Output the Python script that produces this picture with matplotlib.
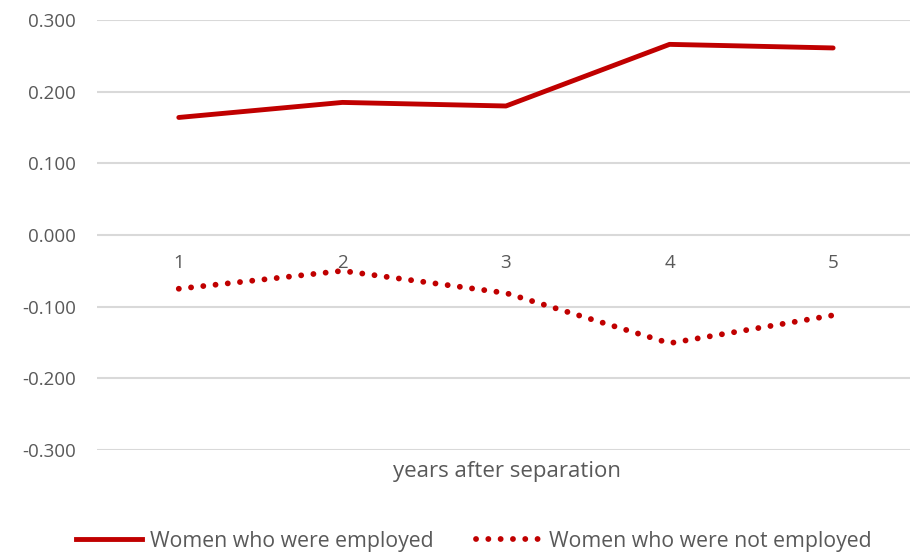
import matplotlib.pyplot as plt
from matplotlib.lines import Line2D

plt.rcParams['font.family'] = ['Open Sans', 'DejaVu Sans']

# data
years = [1, 2, 3, 4, 5]
employed = [0.164, 0.185, 0.180, 0.266, 0.261]
not_employed = [-0.075, -0.050, -0.081, -0.151, -0.112]
yticks = [-0.3, -0.2, -0.1, 0.0, 0.1, 0.2, 0.3]

red = '#c00000'
grey = '#595959'
dots = (0, (0.01, 2.1))

fig = plt.figure(figsize=(9.1, 5.53), dpi=100)
ax = fig.add_axes([97 / 910, 1 - 450 / 553, 1 - 97 / 910, 430 / 553])

ax.plot(years, employed, color=red, linewidth=3.5, solid_capstyle='round',
        solid_joinstyle='round', label='Women who were employed')
ax.plot(years, not_employed, color=red, linewidth=4.2, linestyle=dots,
        dash_capstyle='round', label='Women who were not employed')

ax.set_ylim(-0.3, 0.3)
ax.set_xlim(0.5, 5.47)
ax.set_yticks(yticks)
ax.set_yticklabels([f'{v:.3f}' for v in yticks])
ax.set_xticks(years)
ax.set_xticklabels([str(y) for y in years])

ax.grid(axis='y', color='#d9d9d9', linewidth=1.5)
ax.set_axisbelow(True)
for s in ax.spines.values():
    s.set_visible(False)
ax.spines['bottom'].set_position(('data', 0))
ax.tick_params(axis='y', length=0, pad=15, labelsize=13.5, labelcolor=grey)
ax.tick_params(axis='x', length=0, pad=14, labelsize=13.5, labelcolor=grey)

fig.text(507 / 910, 1 - 472 / 553, 'years after separation', ha='center', va='center',
         fontsize=16, color=grey)

handles = [Line2D([], [], color=red, linewidth=3.5),
           Line2D([], [], color=red, linewidth=4.2, linestyle=dots,
                  dash_capstyle='round')]
fig.legend(handles, ['Women who were employed', 'Women who were not employed'],
           loc='center', bbox_to_anchor=(474 / 910, 1 - 541 / 553), ncol=2,
           frameon=False, fontsize=15.3, labelcolor=grey, handlelength=3.1,
           handletextpad=0.35, columnspacing=2.0)

fig.savefig('out.png', dpi=100)
